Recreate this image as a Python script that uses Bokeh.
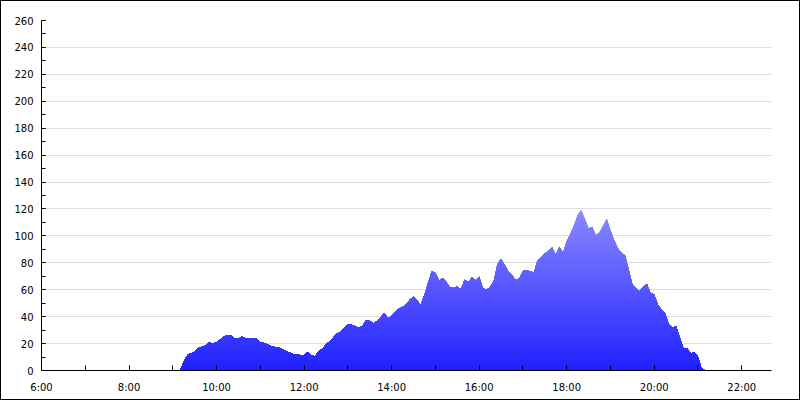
import numpy as np
from bokeh.plotting import figure
from bokeh.models import FixedTicker, Range1d
from bokeh.embed import file_html
from bokeh.resources import INLINE

# ---- data: values every 5 minutes starting 9:00 ----
start_hour = 9.0
step_minutes = 5
values = [
    0, 0, 0, 6.5, 11.5, 12.8, 14, 17, 17.7, 18.5, 21, 20,                    # 9:00
    21, 23, 25.5, 26, 26, 23.8, 23.5, 25.3, 24, 23.5, 23.5, 23.5,            # 10:00
    21, 20.5, 19.5, 18, 17.5, 17, 16, 14.5, 13.3, 12.3, 12, 11.6,            # 11:00
    11.5, 13.8, 11.2, 10.5, 14.5, 16, 19.5, 21.5, 24.5, 27.4, 28.4, 31.9,    # 12:00
    34.4, 34, 32.8, 31.9, 33, 37.5, 37, 35, 37, 39.5, 42.7, 38.8,            # 13:00
    40.5, 43.7, 45.8, 47.2, 49.3, 52.5, 55, 51.8, 48.9, 56.5, 65, 74,        # 14:00
    72.5, 66.9, 68.6, 65.8, 61.7, 61.3, 62.5, 60.2, 67.5, 65.6, 69.3, 67,    # 15:00
    69.6, 61.5, 59.8, 62, 66.5, 78.8, 83, 78.5, 73.6, 70.9, 67, 68.3,        # 16:00
    73.9, 74.6, 73.5, 72.9, 81.7, 83.9, 86.9, 88.7, 91.4, 85.9, 92, 87.5,    # 17:00
    96, 101.4, 107.7, 115.5, 119.5, 112.5, 105.4, 106.8, 100.2, 102.5, 107.4, 112.7,  # 18:00
    104, 97, 90.8, 87.6, 85.5, 75, 64, 61, 58.9, 62, 64.3, 57.5,             # 19:00
    56.5, 49, 45.2, 42.5, 34.5, 31.9, 32.8, 25, 16.8, 16.5, 12.6, 13.8,      # 20:00
    10.2, 1.5, 0,                                                            # 21:00
]

x_ticks = [6, 8, 10, 12, 14, 16, 18, 20, 22]
x_labels = ["6:00", "8:00", "10:00", "12:00", "14:00", "16:00", "18:00", "20:00", "22:00"]
x_minor = list(range(6, 23))
y_ticks = list(range(0, 261, 20))
y_minor = list(range(0, 261, 10))

hours = start_hour + np.arange(len(values)) * step_minutes / 60.0
vals = np.array(values, dtype=float)

p = figure(width=800, height=400, output_backend="svg", toolbar_location=None,
           x_range=Range1d(6, 22.68), y_range=Range1d(0, 260),
           min_border_left=41, min_border_right=29, min_border_top=20, min_border_bottom=30)
p.styles = {"box-shadow": "inset 0 0 0 1px black", "background-color": "white"}

# gradient fill emulated with stacked bands (painted top to bottom)
band_step = 2.0
c_bottom = np.array([32, 32, 255])
c_top = np.array([138, 138, 255])
top_val = 120.0
levels = np.arange(band_step, 124, band_step)[::-1]
for L in levels:
    t = min(L - band_step / 2, top_val) / top_val
    c = c_bottom + (c_top - c_bottom) * t
    color = "#%02x%02x%02x" % tuple(int(round(v)) for v in c)
    p.varea(x=hours, y1=0, y2=np.minimum(vals, L), fill_color=color)

# axes
for ax in (p.xaxis[0], p.yaxis[0]):
    ax.axis_line_color = "black"
    ax.axis_line_width = 1
    ax.major_tick_line_color = "black"
    ax.minor_tick_line_color = "black"
    ax.major_tick_out = 0
    ax.minor_tick_out = 0
    ax.major_label_text_font = "DejaVu Sans"
    ax.major_label_text_font_size = "10px"
    ax.major_label_text_color = "black"

p.xaxis.ticker = FixedTicker(ticks=x_ticks, minor_ticks=x_minor)
p.xaxis.major_label_overrides = dict(zip(x_ticks, x_labels))
p.xaxis.major_tick_in = 5
p.xaxis.minor_tick_in = 5
p.xaxis.major_label_standoff = 11

p.yaxis.ticker = FixedTicker(ticks=y_ticks, minor_ticks=y_minor)
p.yaxis.major_tick_in = 4
p.yaxis.minor_tick_in = 4
p.yaxis.major_label_standoff = 8

p.xgrid.visible = False
p.ygrid.grid_line_color = "#dddddd"
p.ygrid.grid_line_width = 1
p.outline_line_color = None
p.background_fill_color = "white"
p.border_fill_color = None

open("out.html", "w").write(file_html(p, INLINE))
